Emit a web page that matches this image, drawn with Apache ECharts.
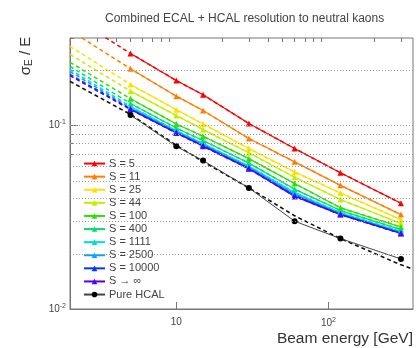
<!DOCTYPE html>
<html>
<head>
<meta charset="utf-8">
<script src="https://cdn.jsdelivr.net/npm/echarts@6/dist/echarts.min.js"></script>
<style>
  html, body { margin: 0; padding: 0; background: #fff; }
  #chart { width: 416px; height: 348px; }
</style>
</head>
<body>
<div id="chart"></div>
<script>
// beam energies of the measured points [GeV]
const energies = [5, 10, 15, 30, 60, 120, 300]

const names = ['S = 5', 'S = 11', 'S = 25', 'S = 44', 'S = 100', 'S = 400',
  'S = 1111', 'S = 2500', 'S = 10000', 'S \u2192 \u221e']
const colors = ['#ff0000', '#ff8000', '#ffe000', '#c0f000', '#30e000', '#00e070',
  '#00e0d0', '#00a8ff', '#0038ff', '#5000ff']

// sigma_E / E for each S, at the energies above
const resS5 = [0.247, 0.176, 0.147, 0.1026, 0.0749, 0.0553, 0.0377]
const resS11 = [0.204, 0.1446, 0.1207, 0.0849, 0.0634, 0.0472, 0.0327]
const resS25 = [0.1674, 0.122, 0.102, 0.0749, 0.0558, 0.0429, 0.0307]
const resS44 = [0.154, 0.1135, 0.095, 0.071, 0.0522, 0.0395, 0.0292]
const resS100 = [0.14, 0.102, 0.0874, 0.066, 0.0483, 0.0356, 0.028]
const resS400 = [0.1318, 0.0969, 0.0828, 0.0624, 0.045, 0.0344, 0.0271]
const resS1111 = [0.127, 0.0939, 0.0797, 0.0601, 0.0431, 0.0335, 0.0264]
const resS2500 = [0.1246, 0.0927, 0.0787, 0.0594, 0.0423, 0.0331, 0.0261]
const resS10000 = [0.1231, 0.0916, 0.0778, 0.0585, 0.0415, 0.0328, 0.0259]
const resSinf = [0.1222, 0.091, 0.0771, 0.0581, 0.0411, 0.0327, 0.0258]
const resHcal = [0.114, 0.077, 0.0644, 0.0457, 0.0301, 0.0242, 0.01875]

// fitted curves (dashed): value at the 2 GeV edge, then through the points
const fitStartE = 2
const fitStart = [0.40, 0.33, 0.27, 0.244, 0.221, 0.21, 0.202, 0.197, 0.19, 0.187]
const hcalFitE = [2, 5, 10, 15, 30, 60, 120, 300, 360]
const hcalFit = [0.174, 0.115, 0.078, 0.0635, 0.0457, 0.0322, 0.0242, 0.0174, 0.0165]

// axis ticks
const xMajor = [10, 100]
const xMinor = [3, 4, 5, 6, 7, 8, 9, 20, 30, 40, 50, 60, 70, 80, 90, 200, 300]
const yMajor = [0.01, 0.1]
const yMinor = [0.02, 0.03, 0.04, 0.05, 0.06, 0.07, 0.08, 0.09, 0.2, 0.3]
const gridLevels = [0.02, 0.03, 0.04, 0.05, 0.06, 0.07, 0.08, 0.09, 0.1, 0.2]

const resAll = [resS5, resS11, resS25, resS44, resS100, resS400, resS1111, resS2500, resS10000, resSinf]

const font = 'Liberation Sans, Arial, sans-serif'
const axisColor = '#777'
const textColor = '#444'

const chart = echarts.init(document.getElementById('chart'))

const series = [
  {
    type: 'line',
    name: 'grid',
    data: [],
    z: 1,
    markLine: {
      silent: true,
      symbol: 'none',
      animation: false,
      label: { show: false },
      lineStyle: { color: '#9a9a9a', type: [1, 2], width: 1 },
      data: gridLevels.map(v => ({ yAxis: v })),
    },
  },
]

resAll.forEach((vals, i) => {
  series.push({
    type: 'line',
    name: 'fit ' + names[i],
    data: [[fitStartE, fitStart[i]]].concat(energies.map((e, j) => [e, vals[j]])),
    symbol: 'none',
    lineStyle: { color: colors[i], width: 1.5, type: [4, 3] },
    z: 3,
  })
  series.push({
    type: 'line',
    name: names[i],
    data: energies.map((e, j) => [e, vals[j]]),
    symbol: 'triangle',
    symbolSize: 6,
    itemStyle: { color: colors[i] },
    lineStyle: { color: colors[i], width: 1.2 },
    z: 4,
  })
})

series.push({
  type: 'line',
  name: 'fit Pure HCAL',
  data: hcalFitE.map((e, j) => [e, hcalFit[j]]),
  symbol: 'none',
  lineStyle: { color: '#111', width: 1.6, type: [4, 3] },
  z: 3,
})
series.push({
  type: 'line',
  name: 'Pure HCAL',
  data: energies.map((e, j) => [e, resHcal[j]]),
  symbol: 'circle',
  symbolSize: 6,
  itemStyle: { color: '#000' },
  lineStyle: { color: '#444', width: 1 },
  z: 4,
})

const supRich = {
  b: { fontFamily: font, fontSize: 10, color: textColor },
  s: { fontFamily: font, fontSize: 7, color: textColor, verticalAlign: 'top', padding: [0, 0, 6, 0] },
}

const option = {
  animation: false,
  backgroundColor: '#fff',
  title: {
    text: 'Combined ECAL + HCAL resolution to neutral kaons',
    left: 100,
    top: 8,
    textStyle: { fontFamily: font, fontSize: 12, fontWeight: 'normal', color: textColor },
  },
  grid: { left: 70, top: 38, width: 350, height: 271, show: true, borderColor: axisColor, borderWidth: 1 },
  legend: {
    orient: 'vertical',
    left: 71,
    top: 156,
    z: 2,
    padding: [1, 38, 1, 12],
    backgroundColor: '#fff',
    itemWidth: 21,
    itemHeight: 7,
    itemGap: 0,
    data: names.concat(['Pure HCAL']),
    textStyle: { fontFamily: font, fontSize: 11, color: textColor, lineHeight: 13.1, padding: [0, 0, 0, -1] },
  },
  xAxis: [
    {
      type: 'log',
      logBase: 10,
      min: 2,
      max: 360,
      axisLine: { show: true, lineStyle: { color: axisColor } },
      axisTick: { inside: true, length: 7, customValues: xMajor, lineStyle: { color: axisColor } },
      axisLabel: {
        customValues: xMajor,
        margin: 8,
        formatter: v => (v === 10 ? '{b|10}' : '{b|10}{s|2}'),
        rich: supRich,
      },
      splitLine: { show: false },
      name: 'Beam energy [GeV]',
      nameLocation: 'end',
      nameGap: 0,
      nameTextStyle: { fontFamily: font, fontSize: 15.5, color: '#333', align: 'right', verticalAlign: 'top', padding: [22, 0, 0, 0] },
    },
    {
      type: 'log',
      logBase: 10,
      min: 2,
      max: 360,
      axisLine: { show: false },
      axisTick: { inside: true, length: 4, customValues: xMinor, lineStyle: { color: axisColor } },
      axisLabel: { show: false },
      splitLine: { show: false },
    },
  ],
  yAxis: [
    {
      type: 'log',
      logBase: 10,
      min: 0.01,
      max: 0.3,
      axisLine: { show: true, lineStyle: { color: axisColor } },
      axisTick: { inside: true, length: 8, customValues: yMajor, lineStyle: { color: axisColor } },
      axisLabel: {
        customValues: yMajor,
        margin: 4,
        formatter: v => (v < 0.05 ? '{b|10}{s|-2}' : '{b|10}{s|-1}'),
        rich: supRich,
      },
      splitLine: { show: false },
    },
    {
      type: 'log',
      logBase: 10,
      min: 0.01,
      max: 0.3,
      position: 'left',
      axisLine: { show: false },
      axisTick: { inside: true, length: 4, customValues: yMinor, lineStyle: { color: axisColor } },
      axisLabel: { show: false },
      splitLine: { show: false },
    },
  ],
  graphic: [
    {
      type: 'text',
      x: 26,
      y: 56,
      rotation: Math.PI / 2,
      style: {
        text: '{a|\u03c3}{e|E}{a| / E}',
        align: 'center',
        verticalAlign: 'middle',
        rich: {
          a: { fontFamily: font, fontSize: 15, fill: '#333' },
          e: { fontFamily: font, fontSize: 10, fill: '#333', verticalAlign: 'bottom', padding: [6, 0, 0, 0] },
        },
      },
    },
  ],
  series,
}

chart.setOption(option)
</script>
</body>
</html>
